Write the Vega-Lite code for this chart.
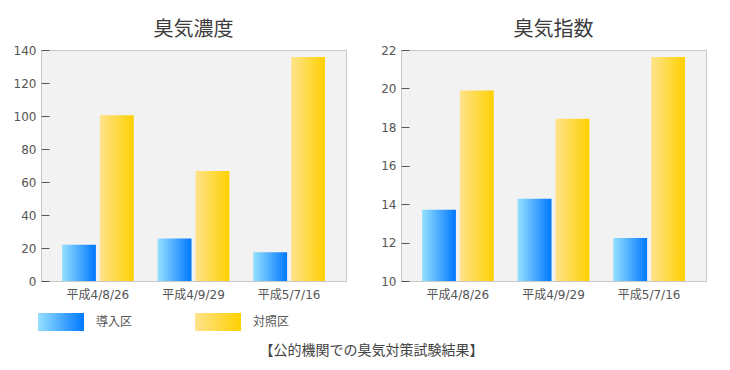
{
  "$schema": "https://vega.github.io/schema/vega-lite/v6.json",
  "background": "white",
  "padding": {"left": 12, "top": 19, "right": 20, "bottom": 10},
  "datasets": {
    "odor": [
      {"date": "平成4/8/26", "group": "導入区", "concentration": 22, "index": 13.7},
      {"date": "平成4/8/26", "group": "対照区", "concentration": 100.5, "index": 19.9},
      {"date": "平成4/9/29", "group": "導入区", "concentration": 25.7, "index": 14.27},
      {"date": "平成4/9/29", "group": "対照区", "concentration": 66.7, "index": 18.43},
      {"date": "平成5/7/16", "group": "導入区", "concentration": 17.5, "index": 12.23},
      {"date": "平成5/7/16", "group": "対照区", "concentration": 135.7, "index": 21.64}
    ],
    "legend": [
      {"group": "導入区"},
      {"group": "対照区"}
    ]
  },
  "title": {
    "text": "【公的機関での臭気対策試験結果】",
    "orient": "bottom",
    "anchor": "middle",
    "fontSize": 14,
    "fontWeight": "normal",
    "color": "#444444",
    "font": "Noto Sans CJK JP",
    "offset": 13,
    "dx": 12
  },
  "spacing": 12,
  "vconcat": [
    {
      "spacing": 33,
      "hconcat": [
        {
          "width": 305,
          "height": 231,
          "title": {"text": "臭気濃度"},
          "data": {"name": "odor"},
          "mark": {"type": "bar"},
          "encoding": {
            "x": {"field": "date", "type": "nominal", "sort": null, "title": null,
                  "scale": {"paddingInner": 0.25, "paddingOuter": 0.22}},
            "xOffset": {"field": "group", "type": "nominal", "sort": ["導入区", "対照区"],
                        "scale": {"paddingInner": 0.105, "paddingOuter": 0}},
            "y": {"field": "concentration", "type": "quantitative", "title": null,
                  "scale": {"domain": [0, 140], "nice": false},
                  "axis": {"values": [0, 20, 40, 60, 80, 100, 120, 140]}},
            "color": {
              "condition": {"test": "datum.group === '導入区'", "value": {"gradient": "linear", "x1": 0, "y1": 0, "x2": 1, "y2": 0, "stops": [{"offset": 0, "color": "#96e0ff"}, {"offset": 1, "color": "#0078ff"}]}},
              "value": {"gradient": "linear", "x1": 0, "y1": 0, "x2": 1, "y2": 0, "stops": [{"offset": 0, "color": "#ffe38c"}, {"offset": 1, "color": "#ffd000"}]}
            }
          }
        },
        {
          "width": 305,
          "height": 231,
          "title": {"text": "臭気指数"},
          "data": {"name": "odor"},
          "mark": {"type": "bar"},
          "encoding": {
            "x": {"field": "date", "type": "nominal", "sort": null, "title": null,
                  "scale": {"paddingInner": 0.25, "paddingOuter": 0.22}},
            "xOffset": {"field": "group", "type": "nominal", "sort": ["導入区", "対照区"],
                        "scale": {"paddingInner": 0.105, "paddingOuter": 0}},
            "y": {"field": "index", "type": "quantitative", "title": null,
                  "scale": {"domain": [10, 22], "nice": false, "zero": false},
                  "axis": {"values": [10, 12, 14, 16, 18, 20, 22]}},
            "y2": {"datum": 10},
            "color": {
              "condition": {"test": "datum.group === '導入区'", "value": {"gradient": "linear", "x1": 0, "y1": 0, "x2": 1, "y2": 0, "stops": [{"offset": 0, "color": "#96e0ff"}, {"offset": 1, "color": "#0078ff"}]}},
              "value": {"gradient": "linear", "x1": 0, "y1": 0, "x2": 1, "y2": 0, "stops": [{"offset": 0, "color": "#ffe38c"}, {"offset": 1, "color": "#ffd000"}]}
            }
          }
        }
      ]
    },
    {
      "width": 314,
      "height": 18,
      "view": {"fill": null, "stroke": null},
      "data": {"name": "legend"},
      "encoding": {
        "x": {"field": "group", "type": "nominal", "sort": null, "axis": null,
              "scale": {"paddingInner": 0, "paddingOuter": 0}}
      },
      "layer": [
        {
          "mark": {"type": "bar", "width": 46, "xOffset": -58.5},
          "encoding": {
            "color": {
              "condition": {"test": "datum.group === '導入区'", "value": {"gradient": "linear", "x1": 0, "y1": 0, "x2": 1, "y2": 0, "stops": [{"offset": 0, "color": "#96e0ff"}, {"offset": 1, "color": "#0078ff"}]}},
              "value": {"gradient": "linear", "x1": 0, "y1": 0, "x2": 1, "y2": 0, "stops": [{"offset": 0, "color": "#ffe38c"}, {"offset": 1, "color": "#ffd000"}]}
            }
          }
        },
        {
          "mark": {"type": "text", "align": "left", "baseline": "middle", "dx": -23.5, "fontSize": 12, "color": "#555555", "font": "Noto Sans CJK JP"},
          "encoding": {"text": {"field": "group"}}
        }
      ]
    }
  ],
  "config": {
    "font": "DejaVu Sans, Noto Sans CJK JP",
    "view": {"fill": "#f2f2f2", "stroke": "#c8c8c8", "strokeWidth": 1},
    "title": {"fontSize": 20, "fontWeight": "normal", "color": "#3c3c3c", "font": "Noto Sans CJK JP", "offset": 4},
    "axis": {"grid": false, "domain": false, "labelColor": "#555555", "labelFontSize": 12, "tickColor": "#555555"},
    "axisY": {"tickSize": -8, "labelPadding": 13},
    "axisX": {"ticks": false, "labelPadding": 8, "labelAngle": 0}
  }
}
